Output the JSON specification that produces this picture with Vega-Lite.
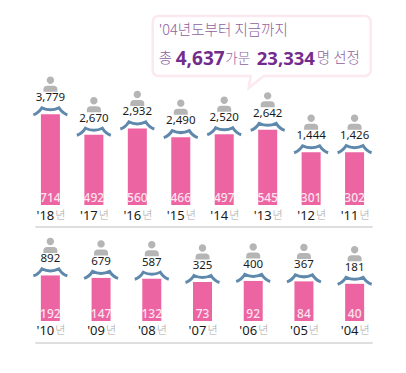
{"$schema":"https://vega.github.io/schema/vega-lite/v6.json","background":"white","padding":{"left":25,"top":10,"right":0,"bottom":0},"spacing":8,"bounds":"flush","config":{"view":{"stroke":null},"concat":{"spacing":8}},
"datasets":{"top":[{"year":"'18","persons":"3,779","families":714},{"year":"'17","persons":"2,670","families":492},{"year":"'16","persons":"2,932","families":560},{"year":"'15","persons":"2,490","families":466},{"year":"'14","persons":"2,520","families":497},{"year":"'13","persons":"2,642","families":545},{"year":"'12","persons":"1,444","families":301},{"year":"'11","persons":"1,426","families":302}],
"bottom":[{"year":"'10","persons":"892","families":192},{"year":"'09","persons":"679","families":147},{"year":"'08","persons":"587","families":132},{"year":"'07","persons":"325","families":73},{"year":"'06","persons":"400","families":92},{"year":"'05","persons":"367","families":84},{"year":"'04","persons":"181","families":40}],
"note":[{"a":1}]},
"vconcat":[
{"width":355,"height":217,"resolve":{"scale":{"x":"shared","y":"shared"}},
"layer":[
{"data":{"name":"note"},"mark":{"type":"rule","color":"#bdbdbd","strokeWidth":1,"xOffset":-15,"x2Offset":18},"encoding":{"x":{"datum":"'18","type":"nominal","axis":null,"scale":{"type":"band","domain":["'18","'17","'16","'15","'14","'13","'12","'11"],"paddingInner":0,"paddingOuter":0.085}},"x2":{"datum":"'11"},"y":{"datum":-511,"type":"quantitative","axis":null,"scale":{"domain":[-511,1848],"nice":false,"zero":false}}}},
{"data":{"name":"top"},"mark":{"type":"bar","width":19,"color":"#ed64a2"},"encoding":{"x":{"field":"year","type":"nominal"},"y":{"field":"families","type":"quantitative"},"y2":{"datum":-272}}},
{"data":{"name":"top"},"mark":{"type":"point","filled":true,"size":4,"color":"#b5b5b5","opacity":1,"shape":"M-3.7,-34a3.7,3.7 0 1,0 7.4,0a3.7,3.7 0 1,0 -7.4,0Z M-7,-22.5 V-25 Q-7,-28.5 -3,-28.5 H3 Q7,-28.5 7,-25 V-22.5Z"},"encoding":{"x":{"field":"year","type":"nominal"},"y":{"field":"families","type":"quantitative"}}},
{"data":{"name":"top"},"mark":{"type":"point","filled":false,"size":4,"stroke":"#5f88ad","strokeWidth":3,"opacity":1,"fillOpacity":0,"shape":"M-17,0.5 Q-12,-1 -8.5,-6.5 Q0,-2.5 8.5,-6.5 Q12,-1 17,0.5"},"encoding":{"x":{"field":"year","type":"nominal"},"y":{"field":"families","type":"quantitative"}}},
{"data":{"name":"top"},"mark":{"type":"text","dy":-16,"font":"Noto Sans","fontSize":11.5,"color":"#1a1a1a"},"encoding":{"x":{"field":"year","type":"nominal"},"y":{"field":"families","type":"quantitative"},"text":{"field":"persons"}}},
{"data":{"name":"top"},"mark":{"type":"text","dy":-7,"font":"Noto Sans","fontSize":12,"fontWeight":500,"color":"#fde3ee"},"encoding":{"x":{"field":"year","type":"nominal"},"y":{"datum":-272,"type":"quantitative"},"text":{"field":"families"}}},
{"data":{"name":"top"},"mark":{"type":"text","dy":10.5,"dx":-5,"font":"Noto Sans","fontSize":13,"color":"#1a1a1a"},"encoding":{"x":{"field":"year","type":"nominal"},"y":{"datum":-272,"type":"quantitative"},"text":{"field":"year"}}},
{"data":{"name":"top"},"mark":{"type":"text","dy":10.5,"dx":10,"font":"Noto Sans CJK KR","fontWeight":300,"fontSize":11,"color":"#a8a8a8"},"encoding":{"x":{"field":"year","type":"nominal"},"y":{"datum":-272,"type":"quantitative"},"text":{"value":"년"}}},
{"data":{"name":"note"},"mark":{"type":"point","filled":true,"size":4,"fill":"white","stroke":"#fbe8f0","strokeWidth":2.5,"opacity":1,"shape":"M-65.5,-53.6 H140 Q146.5,-53.6 146.5,-47 V0 Q146.5,6.4 140,6.4 H39.5 L24.5,18.4 L26.5,6.4 H-65.5 Q-71.5,6.4 -71.5,0 V-47 Q-71.5,-53.6 -65.5,-53.6 Z"},"encoding":{"x":{"datum":"'14","type":"nominal"},"y":{"datum":1200,"type":"quantitative"}}},
{"data":{"name":"note"},"mark":{"type":"text","align":"left","dx":-65.5,"dy":-38.6,"font":"Noto Sans CJK KR","fontWeight":300,"fontSize":14.5,"color":"#8e5f9e"},"encoding":{"x":{"datum":"'14","type":"nominal"},"y":{"datum":1200,"type":"quantitative"},"text":{"value":"'04년도부터 지금까지"}}},
{"data":{"name":"note"},"mark":{"type":"text","align":"left","dx":-65.5,"dy":-10.6,"font":"Noto Sans CJK KR","fontWeight":300,"fontSize":14.5,"color":"#8e5f9e"},"encoding":{"x":{"datum":"'14","type":"nominal"},"y":{"datum":1200,"type":"quantitative"},"text":{"value":"총"}}},
{"data":{"name":"note"},"mark":{"type":"text","align":"left","dx":-48.5,"dy":-10.6,"font":"Noto Sans","fontWeight":"bold","fontSize":19,"color":"#732c8c"},"encoding":{"x":{"datum":"'14","type":"nominal"},"y":{"datum":1200,"type":"quantitative"},"text":{"value":"4,637"}}},
{"data":{"name":"note"},"mark":{"type":"text","align":"left","dx":1,"dy":-10.6,"font":"Noto Sans CJK KR","fontWeight":300,"fontSize":13.5,"color":"#8e5f9e"},"encoding":{"x":{"datum":"'14","type":"nominal"},"y":{"datum":1200,"type":"quantitative"},"text":{"value":"가문"}}},
{"data":{"name":"note"},"mark":{"type":"text","align":"left","dx":32.5,"dy":-10.6,"font":"Noto Sans","fontWeight":"bold","fontSize":18.5,"color":"#732c8c"},"encoding":{"x":{"datum":"'14","type":"nominal"},"y":{"datum":1200,"type":"quantitative"},"text":{"value":"23,334"}}},
{"data":{"name":"note"},"mark":{"type":"text","align":"left","dx":92.5,"dy":-10.6,"font":"Noto Sans CJK KR","fontWeight":300,"fontSize":14.5,"color":"#8e5f9e"},"encoding":{"x":{"datum":"'14","type":"nominal"},"y":{"datum":1200,"type":"quantitative"},"text":{"value":"명 선정"}}}
]},
{"width":355,"height":108,
"layer":[
{"data":{"name":"note"},"mark":{"type":"rule","color":"#bdbdbd","strokeWidth":1,"xOffset":-15,"x2Offset":18},"encoding":{"x":{"datum":"'10","type":"nominal","axis":null,"scale":{"type":"band","domain":["'10","'09","'08","'07","'06","'05","'04"],"paddingInner":0,"paddingOuter":0}},"x2":{"datum":"'04"},"y":{"datum":-1036,"type":"quantitative","axis":null,"scale":{"domain":[-1036,927],"nice":false,"zero":false}}}},
{"data":{"name":"bottom"},"mark":{"type":"bar","width":19,"color":"#ed64a2"},"encoding":{"x":{"field":"year","type":"nominal"},"y":{"field":"families","type":"quantitative"},"y2":{"datum":-636}}},
{"data":{"name":"bottom"},"mark":{"type":"point","filled":true,"size":4,"color":"#b5b5b5","opacity":1,"shape":"M-3.7,-34a3.7,3.7 0 1,0 7.4,0a3.7,3.7 0 1,0 -7.4,0Z M-7,-22.5 V-25 Q-7,-28.5 -3,-28.5 H3 Q7,-28.5 7,-25 V-22.5Z"},"encoding":{"x":{"field":"year","type":"nominal"},"y":{"field":"families","type":"quantitative"}}},
{"data":{"name":"bottom"},"mark":{"type":"point","filled":false,"size":4,"stroke":"#5f88ad","strokeWidth":3,"opacity":1,"fillOpacity":0,"shape":"M-17,0.5 Q-12,-1 -8.5,-6.5 Q0,-2.5 8.5,-6.5 Q12,-1 17,0.5"},"encoding":{"x":{"field":"year","type":"nominal"},"y":{"field":"families","type":"quantitative"}}},
{"data":{"name":"bottom"},"mark":{"type":"text","dy":-16,"font":"Noto Sans","fontSize":11.5,"color":"#1a1a1a"},"encoding":{"x":{"field":"year","type":"nominal"},"y":{"field":"families","type":"quantitative"},"text":{"field":"persons"}}},
{"data":{"name":"bottom"},"mark":{"type":"text","dy":-7,"font":"Noto Sans","fontSize":12,"fontWeight":500,"color":"#fde3ee"},"encoding":{"x":{"field":"year","type":"nominal"},"y":{"datum":-636,"type":"quantitative"},"text":{"field":"families"}}},
{"data":{"name":"bottom"},"mark":{"type":"text","dy":10.5,"dx":-5,"font":"Noto Sans","fontSize":13,"color":"#1a1a1a"},"encoding":{"x":{"field":"year","type":"nominal"},"y":{"datum":-636,"type":"quantitative"},"text":{"field":"year"}}},
{"data":{"name":"bottom"},"mark":{"type":"text","dy":10.5,"dx":10,"font":"Noto Sans CJK KR","fontWeight":300,"fontSize":11,"color":"#a8a8a8"},"encoding":{"x":{"field":"year","type":"nominal"},"y":{"datum":-636,"type":"quantitative"},"text":{"value":"년"}}}
]}
]}
